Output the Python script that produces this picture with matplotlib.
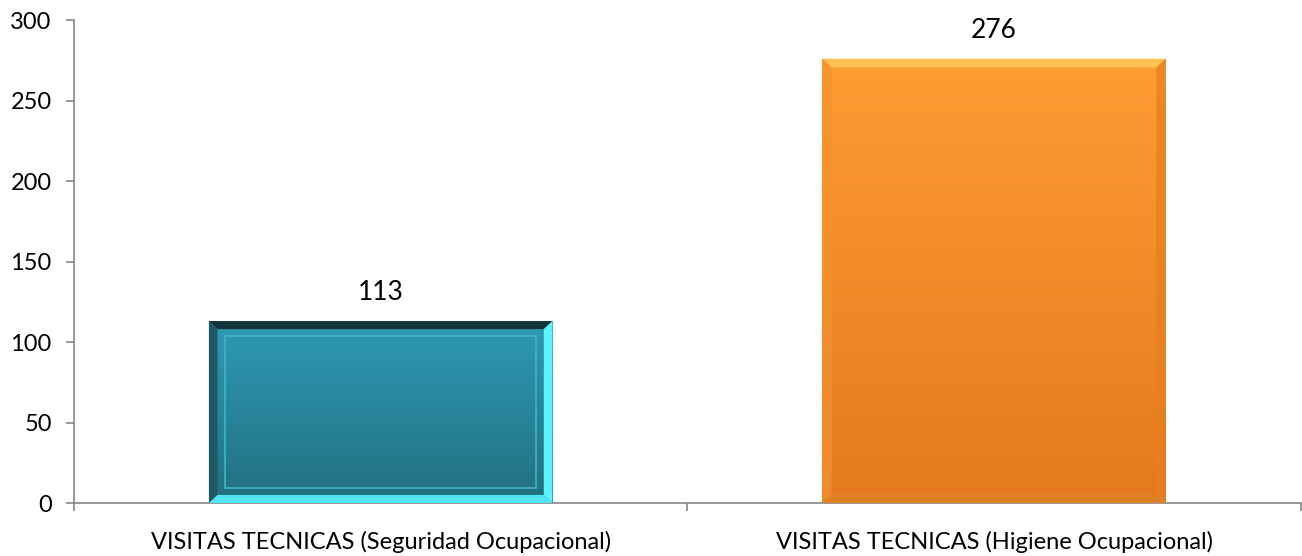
import numpy as np
import matplotlib.pyplot as plt
from matplotlib.patches import Polygon, Rectangle

plt.rcParams['font.family'] = ['Lato', 'DejaVu Sans']

# Datos
categorias = ['VISITAS TECNICAS (Seguridad Ocupacional)',
              'VISITAS TECNICAS (Higiene Ocupacional)']
valores = [113, 276]
y_ticks = [0, 50, 100, 150, 200, 250, 300]

# Colores: (arriba, abajo, bisel arriba, bisel izq, bisel der, bisel abajo)
estilos = [
    ('#2e9ab6', '#22707f', '#15333b', '#1f5866', '#5cf4ff', '#52e6f5'),
    ('#ff9c33', '#e37a1e', '#ffd060', '#f49230', '#e58022', '#e08428'),
]

fig, ax = plt.subplots(figsize=(13.02, 5.56), dpi=100)
fig.subplots_adjust(left=0.0568, right=0.999, bottom=0.0953, top=0.964)

x = np.arange(len(categorias))
barras = ax.bar(x, valores, width=0.56, color='none', edgecolor='none', zorder=2)

ax.set_xlim(-0.5, 1.5)
ax.set_ylim(0, 300)

# bisel en unidades de datos
bx = 0.014
by = 5.0

for i, (rect, est, v) in enumerate(zip(barras, estilos, valores)):
    x0, y0 = rect.get_x(), rect.get_y()
    w, h = rect.get_width(), rect.get_height()
    x1, y1 = x0 + w, y0 + h
    arriba, abajo, b_top, b_left, b_right, b_bot = est

    # relleno con degradado vertical
    c1 = np.array(plt.matplotlib.colors.to_rgb(arriba))
    c2 = np.array(plt.matplotlib.colors.to_rgb(abajo))
    t = np.linspace(0, 1, 256)[:, None]
    grad = (c1 * (1 - t) + c2 * t)[:, None, :]
    im = ax.imshow(grad, extent=[x0, x1, y0, y1], origin='upper',
                   aspect='auto', zorder=3)
    clip = Rectangle((x0, y0), w, h, transform=ax.transData)
    im.set_clip_path(clip)

    if i == 1:
        bxx, byy, a = bx * 1.1, by * 1.1, 0.75
    else:
        bxx, byy, a = bx, by, 1.0

    # biseles
    ax.add_patch(Polygon([(x0, y1), (x1, y1), (x1 - bxx, y1 - byy), (x0 + bxx, y1 - byy)],
                         color=b_top, lw=0, alpha=a, zorder=4))
    ax.add_patch(Polygon([(x0, y0), (x0, y1), (x0 + bxx, y1 - byy), (x0 + bxx, y0 + byy)],
                         color=b_left, lw=0, alpha=a, zorder=4))
    ax.add_patch(Polygon([(x1, y0), (x1, y1), (x1 - bxx, y1 - byy), (x1 - bxx, y0 + byy)],
                         color=b_right, lw=0, alpha=a, zorder=4))
    ax.add_patch(Polygon([(x0, y0), (x1, y0), (x1 - bxx, y0 + byy), (x0 + bxx, y0 + byy)],
                         color=b_bot, lw=0, alpha=a, zorder=4))

    if i == 0:
        # marco interior
        ax.add_patch(Rectangle((x0 + 1.9 * bx, y0 + 1.9 * by), w - 3.8 * bx, h - 3.8 * by,
                               fill=False, edgecolor='#3fb4c8', lw=1.2, zorder=5))

    ax.text(rect.get_x() + w / 2, y1 + 10, str(v), ha='center', va='bottom',
            fontsize=19, color='black')

# ejes
for s in ['top', 'right']:
    ax.spines[s].set_visible(False)
for s in ['left', 'bottom']:
    ax.spines[s].set_color('#868686')
    ax.spines[s].set_linewidth(1.2)

ax.set_yticks(y_ticks)
ax.tick_params(axis='y', colors='#868686', labelcolor='black', labelsize=17,
               length=6, width=1.2, pad=10)

ax.set_xticks([-0.5, 0.5, 1.5])
ax.set_xticklabels([])
ax.set_xticks(x, minor=True)
ax.set_xticklabels(categorias, minor=True)
ax.tick_params(axis='x', which='major', colors='#868686', length=6, width=1.2)
ax.tick_params(axis='x', which='minor', length=0, labelsize=17, labelcolor='black', pad=20)

fig.savefig('out.png', dpi=100)
